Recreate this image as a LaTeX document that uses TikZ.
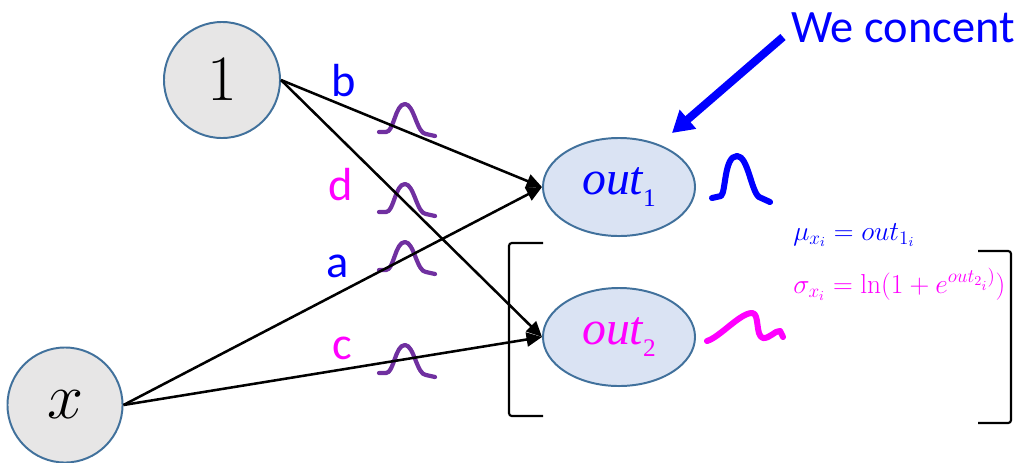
\documentclass[tikz,border=0pt]{standalone}
\usepackage{fix-cm}
\usepackage[no-math]{fontspec}
\setmainfont{Carlito}
\newfontfamily\tms{Liberation Serif}
\usetikzlibrary{arrows.meta, shapes.geometric}
\definecolor{cblue}{HTML}{0000FF}
\definecolor{cmag}{HTML}{FF00FF}
\definecolor{cpurple}{HTML}{7030A0}
\definecolor{cedge}{HTML}{41719C}
\definecolor{cgreyfill}{HTML}{E7E6E6}
\definecolor{cellfill}{HTML}{DAE3F3}
\newcommand{\fsz}[1]{\fontsize{#1}{#1}\selectfont}
\newcommand{\outtxt}[1]{{\tms\itshape\fsz{34}out}\raisebox{-9pt}{\tms\fsz{18}#1}}
\tikzset{
  every picture/.style={x=0.025cm, y=-0.025cm},
  unit/.style={circle, draw=cedge, fill=cgreyfill, line width=1.4pt, minimum size=2.9cm, inner sep=0pt},
  outnode/.style={ellipse, draw=cedge, fill=cellfill, line width=1.4pt, minimum width=3.8cm, minimum height=2.45cm, inner sep=0pt},
  conn/.style={-{Triangle[length=11pt, width=10pt]}, line width=1.8pt},
  wlabel/.style={font=\fsz{33}, inner sep=0pt},
  formula/.style={font=\fsz{19.5}, inner sep=0pt, anchor=base west},
  bracket/.style={line width=1.5pt, rounded corners=2pt},
  bell/.pic={\draw[cpurple, line width=3pt, line cap=round, line join=round]
    (-28,-5) -- (-21,-5) .. controls (-13,-5) and (-12,-33) .. (-2,-33)
    .. controls (7,-33) and (10,-3) .. (19,-3) -- (28,-1);},
}

\begin{document}
\begin{tikzpicture}
  \useasboundingbox (0,0) rectangle (1019,462);
  % inputs and outputs
  \node[unit] (one) at (222,80) {\fsz{46}$1$};
  \node[unit, minimum size=2.875cm] (xin) at (65,405) {\fsz{46}$x$};
  \node[outnode, text=cblue] (outA) at (619,187) {\outtxt{1}};
  \node[outnode, text=cmag] (outB) at (619,337) {\outtxt{2}};
  % weight distributions
  \foreach \yb in {137,217,275,378}
    \pic at (407,\yb) {bell};
  \draw[conn] (one.east) -- (outA.west);
  \draw[conn] (one.east) -- (outB.west);
  \draw[conn] (xin.east) -- (outA.west);
  \draw[conn] (xin.east) -- (outB.west);
  \node[wlabel, text=cblue] (lb) at (344,81) {b};
  \node[wlabel, text=cmag] (ld) at (341,185) {d};
  \node[wlabel, text=cblue] (la) at (338,266) {a};
  \node[wlabel, text=cmag] (lc) at (342,348) {c};
  % output distributions
  \draw[cblue, line width=4.3pt, line cap=round, line join=round]
    (712,198) -- (721,196) .. controls (726,192) and (724,156) .. (737,156)
    .. controls (748,156) and (751,191) .. (759,197) -- (770,202);
  \draw[cmag, line width=4.3pt, line cap=round, line join=round]
    (707,341) .. controls (720,337) and (740,313) .. (752,313)
    .. controls (760,313) and (755,336) .. (763,338)
    .. controls (769,339) and (776,330) .. (780,331) -- (783,337);
  % note
  \node[font=\fsz{33}, text=cblue, inner sep=0pt, anchor=base west] (note) at (791,42) {We concent};
  \coordinate (notetail) at (783,37);
  \coordinate (notetip) at (672,133);
  \draw[cblue, line width=5.7pt, -{Triangle[length=15pt, width=17pt]}] (notetail) -- (notetip);
  % brackets and formulas
  \draw[bracket] (543,243) -- (509,243) -- (509,416) -- (543,416);
  \draw[bracket] (978,251) -- (1011,251) -- (1011,423) -- (978,423);
  \node[formula, text=cblue] (mu) at (793,240) {$\mu_{x_i} = out_{1_i}$};
  \node[formula, text=cmag] (sigma) at (793,293) {$\sigma_{x_i} = \ln(1+e^{out_{2_i})})$};
\end{tikzpicture}
\end{document}
